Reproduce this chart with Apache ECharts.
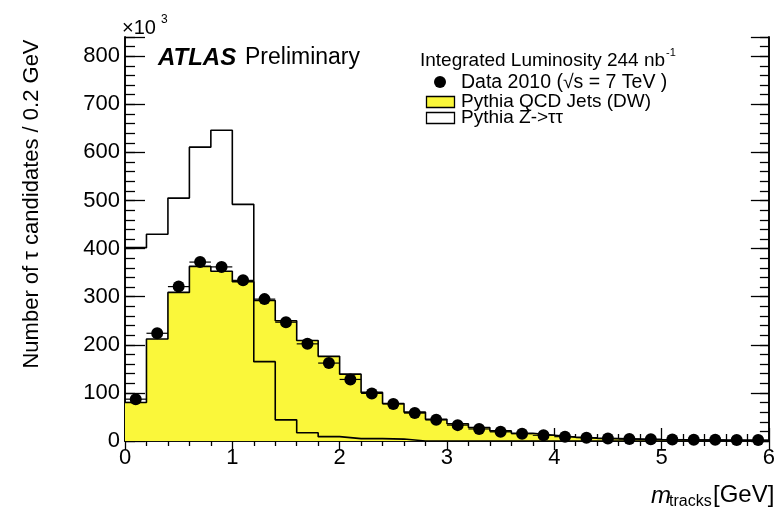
<!DOCTYPE html>
<html>
<head>
<meta charset="utf-8">
<script src="https://cdn.jsdelivr.net/npm/echarts@6/dist/echarts.min.js"></script>
<style>
html,body{margin:0;padding:0;background:#fff;}
#chart{width:778px;height:511px;}
</style>
</head>
<body>
<div id="chart"></div>
<script>
// bin low edges (GeV), bin width 0.2 GeV
var binLow = [0.0,0.2,0.4,0.6,0.8,1.0,1.2,1.4,1.6,1.8,2.0,2.2,2.4,2.6,2.8,3.0,3.2,3.4,3.6,3.8,4.0,4.2,4.4,4.6,4.8,5.0,5.2,5.4,5.6,5.8];
var binWidth = 0.2;
// values in units of 10^3
var qcdJets = [80,212,309,363,353,331,292,250,209,176,139,101,78,60,45,36,28,21,16,12,8,6,5,4,3,2.5,2,1.5,1.5,1];
var zTauTau = [402,430,505,611,646,492,165,44,17,9,5,5,4,0,0,0,0,0,0,0,0,0,0,0,0,0,0,0,0,0];
var data2010 = [87,224,321,372,362,334,295,247,202,162,128,99,77,58,44,33,25,19,15,12,9,7,5,4,3.5,3,2.5,2.5,2,2];
var yTicks = [0,100,200,300,400,500,600,700,800];
var xTicks = [0,1,2,3,4,5,6];

var FONT = 'Liberation Sans, Arial, Helvetica, sans-serif';

function stepData(vals){
  var out = binLow.map(function(x,i){return [x, vals[i]];});
  out.push([binLow[binLow.length-1]+binWidth, vals[vals.length-1]]);
  return out;
}
var dataPts = binLow.map(function(x,i){
  return [x+binWidth/2, data2010[i], x, x+binWidth];
});

var chart = echarts.init(document.getElementById('chart'), null, {renderer:'canvas'});

var axisLine = {show:true, lineStyle:{color:'#000', width:1.6}};
function xAx(pos, major, minor, labels){
  return {
    type:'value', position:pos, min:0, max:6, interval:1,
    axisLine:axisLine,
    axisTick:{show:true, inside:true, length:major, lineStyle:{color:'#000', width:1.3}},
    minorTick:{show:true, splitNumber:5, length:minor, lineStyle:{color:'#000', width:1.3}},
    splitLine:{show:false}, minorSplitLine:{show:false},
    axisLabel:{show:labels, color:'#000', fontSize:22, fontFamily:FONT, margin:6,
      formatter:function(v){return xTicks.indexOf(v)>=0 ? String(v) : '';}}
  };
}
function yAx(pos, interval, len, labels){
  return {
    type:'value', position:pos, min:0, max:840, interval:interval,
    axisLine:axisLine,
    axisTick:{show:true, inside:true, length:len, lineStyle:{color:'#000', width:1.3}},
    splitLine:{show:false},
    axisLabel:{show:labels, color:'#000', fontSize:22, fontFamily:FONT, margin:5,
      formatter:function(v){return yTicks.indexOf(v)>=0 ? String(v) : '';}}
  };
}

var option = {
  backgroundColor:'#fff',
  animation:false,
  grid:{left:125, right:7, top:37, bottom:70},
  xAxis:[xAx('bottom',13,7,true), xAx('top',9,5,false)],
  yAxis:[yAx('left',100,20,true), yAx('left',20,10,false), yAx('right',100,18,false), yAx('right',20,9,false)],
  series:[
    {
      name:'Pythia QCD Jets (DW)', type:'line', step:'end', xAxisIndex:0, yAxisIndex:0,
      data:stepData(qcdJets), symbol:'none', z:1,
      lineStyle:{color:'#000', width:1.6},
      areaStyle:{color:'#faf73a', opacity:1}
    },
    {
      name:'Pythia Z->ττ', type:'line', step:'end', xAxisIndex:0, yAxisIndex:0,
      data:stepData(zTauTau), symbol:'none', z:2,
      lineStyle:{color:'#000', width:1.6}
    },
    {
      name:'Data 2010', type:'custom', xAxisIndex:0, yAxisIndex:0, z:3,
      data:dataPts,
      renderItem:function(params, api){
        var y = api.value(1);
        var p = api.coord([api.value(0), y]);
        var l = api.coord([api.value(2), y]);
        var r = api.coord([api.value(3), y]);
        return {type:'group', children:[
          {type:'line', shape:{x1:l[0], y1:l[1], x2:r[0], y2:r[1]}, style:{stroke:'#000', lineWidth:1.2}},
          {type:'circle', shape:{cx:p[0], cy:p[1], r:6}, style:{fill:'#000'}}
        ]};
      }
    }
  ],
  graphic:[
    // x10^3
    {type:'text', x:122, y:28, style:{text:'×10', fontSize:20, fontFamily:FONT, fill:'#000', align:'left', verticalAlign:'middle'}},
    {type:'text', x:161, y:20, style:{text:'3', fontSize:12, fontFamily:FONT, fill:'#000', align:'left', verticalAlign:'middle'}},
    // ATLAS Preliminary
    {type:'text', x:158, y:58, style:{text:'ATLAS', fontSize:24, fontWeight:'bold', fontStyle:'italic', fontFamily:FONT, fill:'#000', align:'left', verticalAlign:'middle'}},
    {type:'text', x:245, y:58, style:{text:'Preliminary', fontSize:23, fontFamily:FONT, fill:'#000', align:'left', verticalAlign:'middle'}},
    // Luminosity
    {type:'text', x:420, y:61, style:{text:'Integrated Luminosity 244 nb', fontSize:19, fontFamily:FONT, fill:'#000', align:'left', verticalAlign:'middle'}},
    {type:'text', x:666, y:53, style:{text:'-1', fontSize:11, fontFamily:FONT, fill:'#000', align:'left', verticalAlign:'middle'}},
    // legend
    {type:'circle', shape:{cx:440, cy:82, r:6}, style:{fill:'#000'}},
    {type:'text', x:461, y:83, style:{text:'Data 2010 (√s = 7 TeV )', fontSize:19.5, fontFamily:FONT, fill:'#000', align:'left', verticalAlign:'middle'}},
    {type:'rect', shape:{x:426.5, y:96.5, width:28, height:11}, style:{fill:'#faf73a', stroke:'#000', lineWidth:1.3}},
    {type:'text', x:461, y:102, style:{text:'Pythia QCD Jets (DW)', fontSize:19, fontFamily:FONT, fill:'#000', align:'left', verticalAlign:'middle'}},
    {type:'rect', shape:{x:426.5, y:112.5, width:28, height:11}, style:{fill:'#fff', stroke:'#000', lineWidth:1.3}},
    {type:'text', x:461, y:118, style:{text:'Pythia Z->ττ', fontSize:19, fontFamily:FONT, fill:'#000', align:'left', verticalAlign:'middle'}},
    // y title
    {type:'text', x:32, y:204, rotation:Math.PI/2, style:{text:'Number of τ candidates / 0.2 GeV', fontSize:22, fontFamily:FONT, fill:'#000', align:'center', verticalAlign:'middle'}},
    // x title
    {type:'text', x:651, y:496, style:{text:'m', fontSize:24, fontStyle:'italic', fontFamily:FONT, fill:'#000', align:'left', verticalAlign:'middle'}},
    {type:'text', x:669, y:502, style:{text:'tracks', fontSize:16, fontFamily:FONT, fill:'#000', align:'left', verticalAlign:'middle'}},
    {type:'text', x:713, y:495, style:{text:'[GeV]', fontSize:24, fontFamily:FONT, fill:'#000', align:'left', verticalAlign:'middle'}}
  ]
};
chart.setOption(option);
</script>
</body>
</html>
